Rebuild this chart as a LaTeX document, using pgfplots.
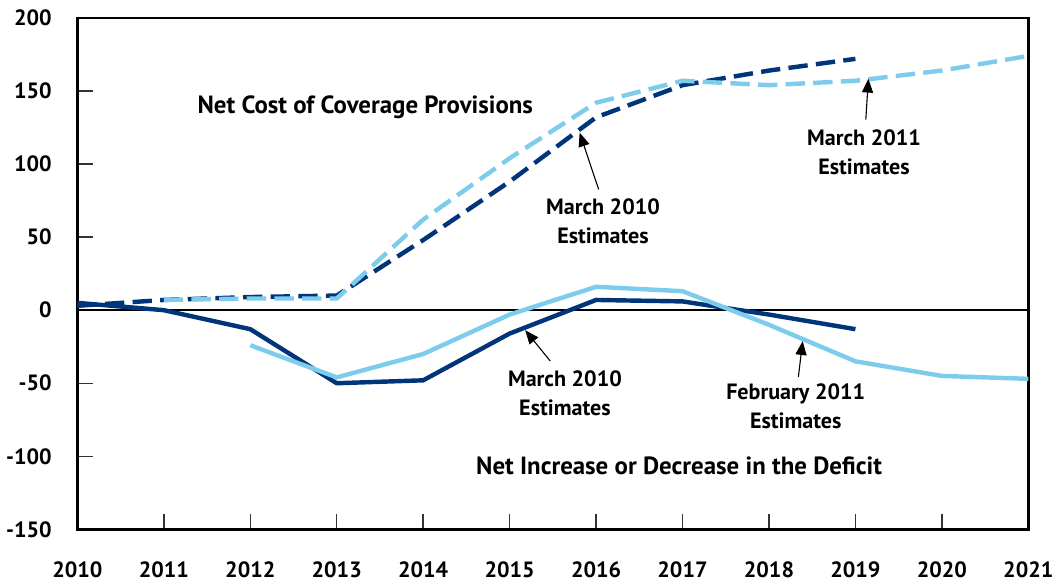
\documentclass[border=0pt]{standalone}
\usepackage{fontspec}
\setmainfont{PT Sans}
\usepackage{pgfplots}
\pgfplotsset{compat=1.18}
\usetikzlibrary{arrows.meta}
\definecolor{navy}{RGB}{0,53,122}
\definecolor{sky}{RGB}{126,204,235}
\begin{document}
\begin{tikzpicture}
\begin{axis}[
  name=ax,
  scale only axis, width=688pt, height=370pt,
  xmin=2010, xmax=2021, ymin=-150, ymax=200,
  xtick={2010,2011,2012,2013,2014,2015,2016,2017,2018,2019,2020,2021},
  xticklabels={2010,2011,2012,2013,2014,2015,2016,2017,2018,2019,2020,2021},
  ytick={-150,-100,-50,0,50,100,150,200},
  yticklabels={-150,-100,-50,0,50,100,150,200},
  axis line style={line width=2pt},
  tick style={line width=1pt, black!80},
  major tick length=11pt,
  tick align=inside, xtick pos=bottom, ytick pos=left,
  ticklabel style={font=\bfseries\fontsize{16}{16}\selectfont},
  xticklabel style={yshift=-20pt},
  yticklabel style={xshift=-15pt},
  clip=false,
]
\draw[line width=1.3pt, black] (axis cs:2010,0) -- (axis cs:2021,0);
% March 2010 coverage (dashed dark)
\addplot[navy, line width=3.2pt, dash pattern=on 14pt off 6pt] coordinates {
 (2010,3) (2011,7) (2012,9) (2013,10) (2014,48) (2015,88) (2016,132) (2017,154) (2018,164) (2019,172)};
% March 2011 coverage (dashed light)
\addplot[sky, line width=3.2pt, dash pattern=on 14pt off 6pt] coordinates {
 (2011,7) (2012,8) (2013,8) (2014,62) (2015,104) (2016,142) (2017,157) (2018,154) (2019,157) (2020,164) (2021,174)};
% March 2010 deficit (solid dark)
\addplot[navy, line width=3.2pt] coordinates {
 (2010,5) (2011,0) (2012,-13) (2013,-50) (2014,-48) (2015,-16) (2016,7) (2017,6) (2018,-3) (2019,-13)};
% February 2011 deficit (solid light)
\addplot[sky, line width=3.2pt] coordinates {
 (2012,-24) (2013,-46) (2014,-30) (2015,-3) (2016,16) (2017,13) (2018,-10) (2019,-35) (2020,-45) (2021,-47)};
% labels
\node[font=\bfseries\fontsize{18}{18}\selectfont] at (axis cs:2013.33,138.6) {Net Cost of Coverage Provisions};
\node[font=\bfseries\fontsize{18}{18}\selectfont] at (axis cs:2016.96,-106.5) {Net Increase or Decrease in the Deficit};
\node[font=\bfseries\fontsize{16}{21}\selectfont, align=center] at (axis cs:2016.08,60.8) {March 2010\\Estimates};
\node[font=\bfseries\fontsize{16}{21}\selectfont, align=center] at (axis cs:2019.10,107.8) {March 2011\\Estimates};
\node[font=\bfseries\fontsize{16}{21}\selectfont, align=center] at (axis cs:2015.64,-56.7) {March 2010\\Estimates};
\node[font=\bfseries\fontsize{16}{21}\selectfont, align=center] at (axis cs:2018.31,-65.5) {February 2011\\Estimates};
\draw[line width=0.8pt, -{Triangle[length=10pt,width=8pt]}] (axis cs:2016.03,82.6) -- (axis cs:2015.81,121.5);
\draw[line width=0.8pt, -{Triangle[length=10pt,width=8pt]}] (axis cs:2019.12,130.4) -- (axis cs:2019.15,158.4);
\draw[line width=0.8pt, -{Triangle[length=10pt,width=8pt]}] (axis cs:2015.47,-34.8) -- (axis cs:2015.18,-13.7);
\draw[line width=0.8pt, -{Triangle[length=10pt,width=8pt]}] (axis cs:2018.34,-45.7) -- (axis cs:2018.39,-21.2);
\end{axis}
\path ([yshift=13pt]ax.north west) -- ([xshift=-56pt]ax.south west);
\end{tikzpicture}
\end{document}
